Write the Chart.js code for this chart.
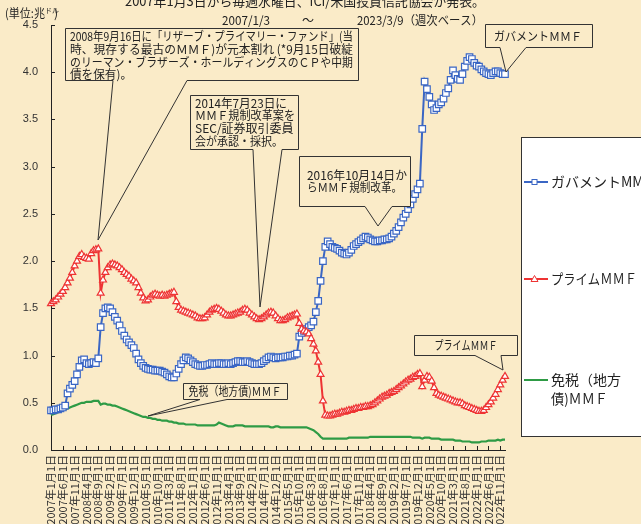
<!DOCTYPE html>
<html>
<head>
<meta charset="utf-8">
<script src="https://cdn.jsdelivr.net/npm/chart.js@4.4.0/dist/chart.umd.min.js"></script>
<style>
  html, body { margin: 0; padding: 0; background: #FAEBC8; }
  canvas { display: block; }
</style>
</head>
<body>
<canvas id="mmf" width="641" height="524"></canvas>
<script>
// one value per month, index 0 = 2007/1 ... index 192 = 2023/1-3 (units: trillion USD)
const tickLabels = ['2007年1月1日','2007年6月1日','2007年11月1日','2008年4月1日','2008年9月1日','2009年2月1日','2009年7月1日','2009年12月1日','2010年5月1日','2010年10月1日','2011年3月1日','2011年8月1日','2012年1月1日','2012年6月1日','2012年11月1日','2013年4月1日','2013年9月1日','2014年2月1日','2014年7月1日','2014年12月1日','2015年5月1日','2015年10月1日','2016年3月1日','2016年8月1日','2017年1月1日','2017年6月1日','2017年11月1日','2018年4月1日','2018年9月1日','2019年2月1日','2019年7月1日','2019年12月1日','2020年5月1日','2020年10月1日','2021年3月1日','2021年8月1日','2022年1月1日','2022年6月1日','2022年11月1日'];

const seriesNames = ['ガバメントMMF', 'プライムＭＭＦ', '免税（地方債)ＭＭＦ'];

const govMMF = [
  0.42,0.42,0.43,0.43,0.44,0.45,0.47,0.60,0.65,0.69,0.73,0.80,
  0.88,0.95,0.96,0.92,0.91,0.92,0.93,0.92,0.97,1.30,1.45,1.50,
  1.51,1.50,1.46,1.41,1.37,1.32,1.26,1.21,1.17,1.14,1.11,1.08,
  1.02,0.96,0.92,0.89,0.87,0.86,0.85,0.85,0.84,0.84,0.84,0.83,
  0.82,0.80,0.78,0.77,0.77,0.81,0.86,0.91,0.95,0.98,0.97,0.95,
  0.93,0.91,0.90,0.89,0.89,0.90,0.90,0.91,0.92,0.91,0.91,0.92,
  0.92,0.91,0.91,0.92,0.91,0.92,0.93,0.94,0.94,0.93,0.93,0.94,
  0.93,0.92,0.91,0.91,0.91,0.92,0.94,0.96,0.98,0.99,0.98,0.97,
  0.98,0.98,0.98,0.99,0.99,1.00,1.00,1.01,1.02,1.20,1.24,1.26,
  1.28,1.30,1.32,1.36,1.46,1.58,1.79,2.00,2.15,2.21,2.18,2.15,
  2.14,2.13,2.11,2.09,2.08,2.07,2.09,2.12,2.16,2.18,2.20,2.22,
  2.24,2.26,2.25,2.23,2.22,2.21,2.21,2.22,2.22,2.23,2.23,2.24,
  2.26,2.29,2.32,2.36,2.41,2.46,2.50,2.55,2.60,2.66,2.71,2.76,
  2.82,3.40,3.90,3.82,3.74,3.66,3.60,3.62,3.66,3.68,3.72,3.78,
  3.83,3.92,4.02,3.97,3.93,3.92,3.98,4.06,4.12,4.16,4.14,4.10,
  4.07,4.06,4.03,4.01,3.99,3.98,3.97,3.99,4.01,4.01,3.99,3.98,
  3.98
];

const primeMMF = [
  1.55,1.57,1.59,1.62,1.65,1.68,1.72,1.77,1.82,1.88,1.95,2.00,
  2.05,2.07,2.04,2.03,2.02,2.08,2.11,2.12,2.13,1.66,1.80,1.88,
  1.93,1.96,1.97,1.96,1.95,1.93,1.91,1.88,1.86,1.84,1.81,1.79,
  1.77,1.72,1.66,1.61,1.58,1.59,1.62,1.64,1.65,1.64,1.63,1.64,
  1.63,1.64,1.65,1.66,1.67,1.57,1.51,1.48,1.47,1.46,1.45,1.44,
  1.43,1.42,1.40,1.39,1.39,1.40,1.43,1.46,1.48,1.49,1.50,1.49,
  1.47,1.45,1.43,1.42,1.42,1.43,1.44,1.45,1.46,1.48,1.49,1.48,
  1.45,1.43,1.41,1.39,1.38,1.39,1.41,1.43,1.45,1.46,1.45,1.42,
  1.39,1.37,1.37,1.38,1.40,1.41,1.42,1.43,1.44,1.34,1.28,1.26,
  1.25,1.23,1.18,1.12,1.05,0.93,0.80,0.52,0.37,0.36,0.36,0.37,
  0.38,0.38,0.39,0.40,0.40,0.41,0.42,0.42,0.43,0.44,0.44,0.45,
  0.45,0.46,0.46,0.47,0.48,0.50,0.52,0.54,0.56,0.57,0.58,0.60,
  0.61,0.62,0.64,0.66,0.68,0.70,0.72,0.74,0.75,0.77,0.78,0.80,
  0.81,0.67,0.74,0.78,0.77,0.73,0.66,0.60,0.58,0.57,0.56,0.55,
  0.54,0.53,0.52,0.51,0.50,0.50,0.49,0.47,0.46,0.45,0.44,0.43,
  0.42,0.41,0.41,0.42,0.45,0.48,0.51,0.55,0.59,0.64,0.69,0.74,
  0.78
];

const taxFreeMMF = [
  0.37,0.38,0.39,0.40,0.41,0.42,0.43,0.44,0.45,0.46,0.47,0.48,
  0.49,0.50,0.50,0.51,0.51,0.51,0.52,0.52,0.52,0.48,0.49,0.49,
  0.48,0.48,0.47,0.47,0.46,0.45,0.44,0.43,0.42,0.41,0.40,0.39,
  0.38,0.37,0.36,0.35,0.35,0.34,0.34,0.33,0.33,0.32,0.32,0.31,
  0.31,0.31,0.30,0.30,0.29,0.29,0.28,0.28,0.28,0.27,0.27,0.27,
  0.27,0.27,0.26,0.26,0.26,0.26,0.26,0.26,0.26,0.26,0.27,0.29,
  0.28,0.27,0.26,0.25,0.25,0.25,0.26,0.26,0.26,0.26,0.25,0.25,
  0.25,0.25,0.25,0.25,0.25,0.25,0.25,0.25,0.25,0.24,0.24,0.25,
  0.25,0.24,0.24,0.24,0.24,0.24,0.24,0.24,0.24,0.24,0.24,0.24,
  0.24,0.23,0.22,0.21,0.19,0.17,0.14,0.12,0.12,0.12,0.12,0.12,
  0.12,0.12,0.12,0.12,0.12,0.12,0.13,0.13,0.13,0.13,0.13,0.13,
  0.13,0.13,0.13,0.14,0.14,0.14,0.14,0.14,0.14,0.14,0.14,0.14,
  0.14,0.14,0.14,0.14,0.14,0.14,0.14,0.14,0.14,0.13,0.13,0.13,
  0.13,0.12,0.13,0.13,0.13,0.12,0.12,0.12,0.12,0.11,0.11,0.11,
  0.11,0.11,0.11,0.10,0.10,0.10,0.09,0.09,0.09,0.09,0.08,0.08,
  0.08,0.08,0.09,0.09,0.09,0.10,0.10,0.10,0.10,0.11,0.10,0.11,
  0.11
];

const BG = '#FAEBC8';
const JP = '"Noto Sans CJK JP", "Noto Sans", sans-serif';
const BLUE = '#3A66C4', RED = '#EE3333', GREEN = '#2E9B45', INK = '#222';

const toXY = arr => arr.map((v, i) => ({ x: i, y: v }));

function txt(ctx, s, x, y, size, w, align) {
  ctx.font = size + 'px ' + JP;
  ctx.textAlign = align || 'left';
  ctx.textBaseline = 'middle';
  ctx.fillStyle = INK;
  if (w) ctx.fillText(s, x, y, w); else ctx.fillText(s, x, y);
}

// rectangle callout with a wedge from the bottom edge
function callout(ctx, x1, y1, x2, y2, b1, b2, tx, ty) {
  ctx.beginPath();
  ctx.moveTo(x1, y1);
  ctx.lineTo(x2, y1);
  ctx.lineTo(x2, y2);
  ctx.lineTo(b2, y2);
  ctx.lineTo(tx, ty);
  ctx.lineTo(b1, y2);
  ctx.lineTo(x1, y2);
  ctx.closePath();
  ctx.fillStyle = BG;
  ctx.fill();
  ctx.strokeStyle = '#333';
  ctx.lineWidth = 1;
  ctx.stroke();
}

const deco = {
  id: 'deco',
  beforeDraw(chart) {
    const ctx = chart.ctx;
    ctx.save();
    ctx.fillStyle = BG;
    ctx.fillRect(0, 0, chart.width, chart.height);
    ctx.restore();
  },
  afterDraw(chart) {
    const ctx = chart.ctx;
    const { x, y } = chart.scales;
    const area = chart.chartArea;
    ctx.save();

    // inward tick marks
    ctx.strokeStyle = INK;
    ctx.lineWidth = 1;
    ctx.beginPath();
    y.ticks.forEach(t => {
      const py = Math.round(y.getPixelForValue(t.value)) + 0.5;
      ctx.moveTo(area.left, py); ctx.lineTo(area.left + 4, py);
    });
    x.ticks.forEach(t => {
      const px = Math.round(x.getPixelForValue(t.value)) + 0.5;
      ctx.moveTo(px, area.bottom); ctx.lineTo(px, area.bottom - 4);
    });
    ctx.stroke();

    // header texts
    txt(ctx, '*2007年1月3日から毎週水曜日、ICI/米国投資信託協会が発表。', 302, 1, 13, 366, 'center');
    txt(ctx, '(単位:兆', 5, 13, 12, 40);
    ctx.font = '7px ' + JP;
    ctx.textBaseline = 'middle';
    ctx.fillText('ドル', 45, 10);
    txt(ctx, ')', 54, 13, 12);
    txt(ctx, '2007/1/3', 246, 20, 12, 48, 'center');
    txt(ctx, '～', 308, 20, 12, null, 'center');
    txt(ctx, '2023/3/9（週次ベース）', 357, 20, 12, 126);

    // annotation callouts
    callout(ctx, 65.5, 28.5, 358.5, 80.5, 113, 187, 98, 240);
    txt(ctx, '2008年9月16日に「リザーブ・プライマリー・ファンド」(当', 70, 36, 12, 283);
    txt(ctx, '時、現存する最古のＭＭＦ)が元本割れ (*9月15日破綻', 70, 49, 12, 283);
    txt(ctx, 'のリーマン・ブラザーズ・ホールディングスのＣＰや中期', 70, 62, 12, 283);
    txt(ctx, '債を保有)。', 70, 74, 12, 62);

    callout(ctx, 190.5, 95.5, 298.5, 149.5, 253, 282, 260, 307);
    txt(ctx, '2014年7月23日に', 195, 103, 12, 92);
    txt(ctx, 'ＭＭＦ規制改革案を', 195, 115.5, 12, 100);
    txt(ctx, 'SEC/証券取引委員', 195, 128.5, 12, 100);
    txt(ctx, '会が承認・採択。', 195, 141.5, 12, 88);

    callout(ctx, 299.5, 156.5, 410.5, 206.5, 365, 392, 378, 226);
    txt(ctx, '2016年10月14日か', 307, 175, 12, 100);
    txt(ctx, 'らＭＭＦ規制改革。', 307, 187.5, 12, 95);

    callout(ctx, 485.5, 24.5, 592.5, 47.5, 500, 526, 506, 72);
    txt(ctx, 'ガバメントＭＭＦ', 538, 36, 12, 88, 'center');

    callout(ctx, 414.5, 335.5, 517.5, 355.5, 475, 501, 503, 370);
    txt(ctx, seriesNames[1], 466, 345, 12, 63, 'center');

    callout(ctx, 183.5, 383.5, 287.5, 399.5, 200, 227, 148, 416);
    txt(ctx, seriesNames[2], 235, 391, 12, 93, 'center');

    // legend panel
    ctx.fillStyle = '#fff';
    ctx.fillRect(521, 137, 130, 299);
    ctx.strokeStyle = '#333';
    ctx.strokeRect(521.5, 137.5, 130, 299);

    const rows = [
      { c: BLUE, y: 182, mark: 'rect' },
      { c: RED, y: 279, mark: 'tri' },
      { c: GREEN, y: 380, mark: null }
    ];
    rows.forEach(r => {
      ctx.strokeStyle = r.c;
      ctx.lineWidth = 2;
      ctx.beginPath();
      ctx.moveTo(524, r.y); ctx.lineTo(548, r.y);
      ctx.stroke();
      ctx.fillStyle = '#fff';
      ctx.lineWidth = 1;
      if (r.mark === 'rect') {
        ctx.fillRect(532, r.y - 2.5, 5, 5);
        ctx.strokeRect(532, r.y - 2.5, 5, 5);
      } else if (r.mark === 'tri') {
        ctx.beginPath();
        ctx.moveTo(534.5, r.y - 3.5); ctx.lineTo(538, r.y + 2.5); ctx.lineTo(531, r.y + 2.5);
        ctx.closePath(); ctx.fill(); ctx.stroke();
      }
    });
    txt(ctx, seriesNames[0], 551, 182, 14);
    txt(ctx, 'プライムＭＭＦ', 551, 279, 14, 86);
    txt(ctx, '免税（地方', 551, 380, 14, 72);
    txt(ctx, '債)ＭＭＦ', 551, 399, 14, 57);

    ctx.restore();
  }
};

new Chart(document.getElementById('mmf'), {
  type: 'line',
  data: {
    datasets: [
      {
        label: seriesNames[0], data: toXY(govMMF), order: 1,
        borderColor: BLUE, borderWidth: 2,
        pointStyle: 'rect', pointRadius: 4.6, pointBorderWidth: 1.2,
        pointBorderColor: BLUE, pointBackgroundColor: '#fff', clip: false
      },
      {
        label: seriesNames[1], data: toXY(primeMMF), order: 0,
        borderColor: RED, borderWidth: 2,
        pointStyle: 'triangle', pointRadius: 4, pointBorderWidth: 1.2,
        pointBorderColor: RED, pointBackgroundColor: '#fff', clip: false
      },
      {
        label: seriesNames[2], data: toXY(taxFreeMMF), order: 2,
        borderColor: GREEN, borderWidth: 2.2, pointRadius: 0, clip: false
      }
    ]
  },
  options: {
    responsive: false,
    animation: false,
    devicePixelRatio: 1,
    events: [],
    layout: { padding: { left: 0, right: 136, top: 25, bottom: 0 } },
    plugins: { legend: { display: false }, tooltip: { enabled: false } },
    scales: {
      x: {
        type: 'linear', min: 0, max: 192,
        afterBuildTicks: s => { s.ticks = tickLabels.map((_, i) => ({ value: i * 5 })); },
        afterFit: s => { s.height = 74; },
        grid: { drawOnChartArea: false, drawTicks: false },
        border: { color: INK, width: 1 },
        ticks: {
          autoSkip: false, minRotation: 90, maxRotation: 90, padding: 5,
          color: '#333', font: { family: JP, size: 11 },
          callback: v => tickLabels[Math.round(v / 5)]
        }
      },
      y: {
        min: 0, max: 4.5,
        afterFit: s => { s.width = 51; },
        grid: { drawOnChartArea: false, drawTicks: false },
        border: { color: INK, width: 1 },
        ticks: {
          stepSize: 0.5, padding: 13, color: '#333',
          font: { family: '"Liberation Sans", Arial, sans-serif', size: 11 },
          callback: v => v.toFixed(1)
        }
      }
    }
  },
  plugins: [deco]
});
</script>
</body>
</html>
